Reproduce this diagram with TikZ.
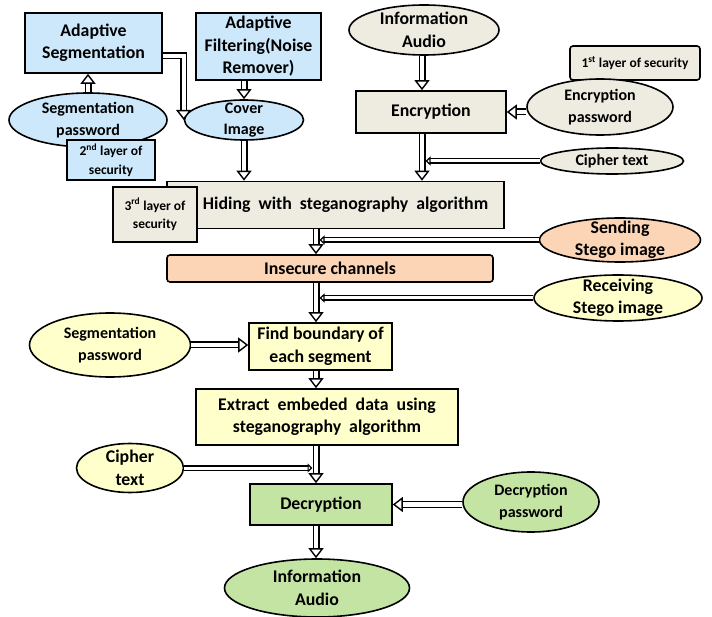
\documentclass[tikz,border=0pt]{standalone}
\usepackage{tikz}
\usepackage{color}
\usepackage{fontspec}
\setmainfont{Carlito}
\usetikzlibrary{arrows.meta,shapes.geometric}

\definecolor{skyfill}{RGB}{204,232,250}
\definecolor{tanfill}{RGB}{238,236,225}
\definecolor{peachfill}{RGB}{251,213,181}
\definecolor{lemonfill}{RGB}{255,255,204}
\definecolor{leaffill}{RGB}{196,228,164}

\newcommand{\mainsz}{\fontsize{17.8}{22.5}\selectfont\bfseries}
\newcommand{\midsz}{\fontsize{16}{21.5}\selectfont\bfseries}
\newcommand{\notesz}{\fontsize{13.5}{18.5}\selectfont\bfseries}

\begin{document}
\begin{tikzpicture}[%
      x=1pt, y=-1pt,
      box/.style={draw=black, line width=1.6pt, inner sep=0pt, align=center},
      oval/.style={ellipse, draw=black, line width=1.6pt, inner sep=0pt,
                   label={[align=center, font=\mainsz]center:#1}},
      ovalsm/.style={ellipse, draw=black, line width=1.6pt, inner sep=0pt,
                   label={[align=center, font=\midsz]center:#1}},
      dbl/.style={double=white, double distance=4.2pt, line width=1.4pt,
                  -{Triangle[open, length=10pt, width=15pt, fill=white]}},
      side/.style={double=white, double distance=3pt, line width=1.2pt,
                   shorten >=3.5pt,
                   -{Triangle[open, length=5pt, width=9pt, fill=white]}},
      ]
      \useasboundingbox (0,0) rectangle (712,617);

      % sender side
      \node [box, fill=skyfill, font=\mainsz, minimum width=137, minimum height=60]
            (seg) at (93.5,43) {Adaptive\\Segmentation};
      \node [box, fill=skyfill, font=\mainsz, minimum width=125, minimum height=67]
            (filt) at (258.5,46.5) {Adaptive\\Filtering(Noise\\Remover)};
      \node [ovalsm={Segmentation\\password}, fill=skyfill,
             minimum width=158, minimum height=54] (segpw) at (88,120) {};
      \node [box, fill=skyfill, font=\notesz, minimum width=88, minimum height=40]
            (lay2) at (111,160) {2\textsuperscript{nd} layer of\\security};
      \node [ovalsm={Cover\\Image}, fill=skyfill,
             minimum width=119, minimum height=40] (cover) at (244,120) {};

      \node [oval={Information\\Audio}, fill=tanfill,
             minimum width=150, minimum height=50] (infoA) at (424,30) {};
      \node [box, fill=tanfill, font=\mainsz, minimum width=150, minimum height=42]
            (enc) at (431,112) {Encryption};
      \node [box, rounded corners=3pt, fill=tanfill, font=\notesz,
             minimum width=130, minimum height=34] (lay1) at (635,63)
            {1\textsuperscript{st} layer of security};
      \node [ovalsm={Encryption\\password}, fill=tanfill,
             minimum width=146, minimum height=56] (encpw) at (600,107) {};
      \node [ovalsm={Cipher text}, fill=tanfill,
             minimum width=143, minimum height=26] (ciph) at (612,161) {};

      \node [box, fill=tanfill, font=\mainsz, minimum width=337, minimum height=47]
            (hide) at (335.5,205) {~~~~~Hiding~ with~ steganography~ algorithm};
      \node [box, fill=tanfill, font=\notesz, minimum width=84, minimum height=55]
            (lay3) at (155,214.5) {3\textsuperscript{rd} layer of\\security};

      \node [oval={Sending\\Stego image}, fill=peachfill,
             minimum width=161, minimum height=44] (send) at (620,240) {};
      \node [box, rounded corners=3pt, fill=peachfill, font=\mainsz,
             minimum width=326, minimum height=27] (insec) at (330,268.5)
            {Insecure channels};

      % receiver side
      \node [oval={Receiving\\Stego image}, fill=lemonfill,
             minimum width=168, minimum height=46] (recv) at (618,298) {};
      \node [ovalsm={Segmentation\\password}, fill=lemonfill,
             minimum width=161, minimum height=64] (segpwB) at (110,345) {};
      \node [box, fill=lemonfill, font=\mainsz, minimum width=143, minimum height=47]
            (find) at (320.5,346.5) {Find boundary of\\each segment};
      \node [box, fill=lemonfill, font=\mainsz, minimum width=262, minimum height=56]
            (extr) at (327,417) {Extract~ embeded~ data~ using\\steganography~ algorithm};
      \node [oval={Cipher\\text}, fill=lemonfill,
             minimum width=107, minimum height=49] (ciphB) at (130,468) {};

      \node [box, fill=leaffill, font=\mainsz, minimum width=142, minimum height=41]
            (dec) at (321,504.5) {Decryption};
      \node [ovalsm={Decryption\\password}, fill=leaffill,
             minimum width=136, minimum height=60] (decpw) at (531,502) {};
      \node [oval={Information\\Audio}, fill=leaffill,
             minimum width=185, minimum height=58] (infoB) at (317,588) {};

      \coordinate (enctrunk) at (422,0);
      \coordinate (trunk) at (316,0);

      % arrows
      \draw [dbl] (segpw.north) -- (segpw.north |- seg.south);
      \draw [dbl] ([yshift=-13pt]seg.east) -| (cover.west);
      \draw [dbl] (cover.north |- filt.south) -- (cover.north);
      \draw [dbl] (cover.south) -- (cover.south |- hide.north);

      \draw [dbl] (enctrunk |- infoA.south) -- (enctrunk |- enc.north);
      \draw [dbl] (encpw.west |- enc.east) -- (enc.east);
      \draw [dbl] (enctrunk |- enc.south) -- (enctrunk |- hide.north);
      \draw [side] (ciph.west) -- (ciph.west -| enctrunk);

      \draw [dbl] (trunk |- hide.south) -- (trunk |- insec.north);
      \draw [side] (send.west) -- (send.west -| trunk);
      \draw [dbl] (trunk |- insec.south) -- (trunk |- find.north);
      \draw [side] (recv.west) -- (recv.west -| trunk);

      \draw [dbl] (segpwB.east) -- (segpwB.east -| find.west);
      \draw [dbl] (trunk |- find.south) -- (trunk |- extr.north);
      \draw [dbl] (trunk |- extr.south) -- (trunk |- dec.north);
      \draw [side] (ciphB.east) -- (ciphB.east -| trunk);
      \draw [dbl] (decpw.west |- dec.east) -- (dec.east);
      \draw [dbl] (trunk |- dec.south) -- (trunk |- infoB.north);
\end{tikzpicture}
\end{document}
